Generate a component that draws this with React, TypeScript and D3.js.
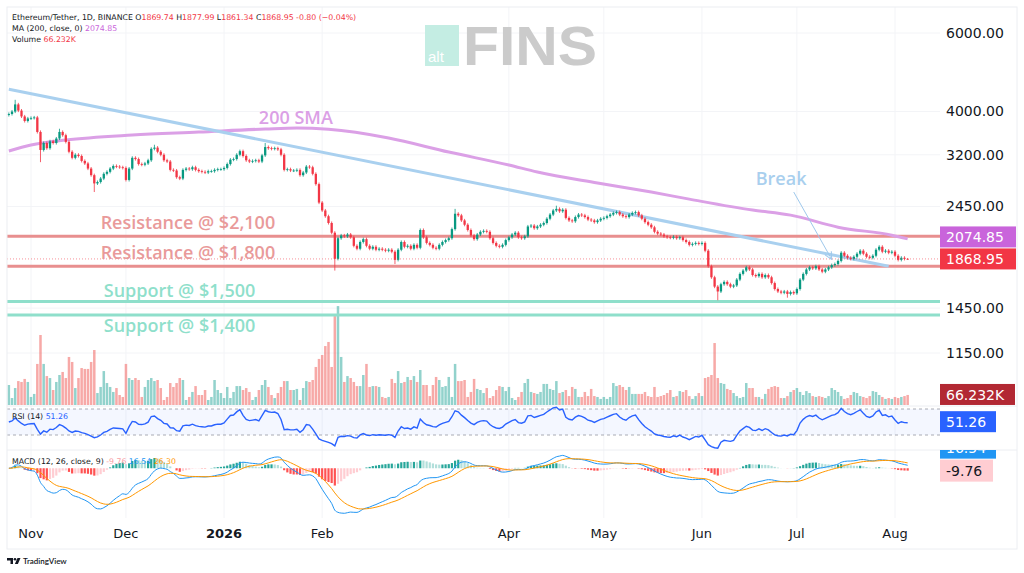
import * as d3 from "d3";

// ETH/USDT daily candles, Oct 25 2025 -> Aug 5 2026 (closes)
const firstDay = "2025-10-25";
const firstOpen = 3930;

const closesOct = [3950, 4000, 4150, 4020, 3900, 3810, 3860];
const closesNov = [3870, 3880, 3600, 3280, 3400, 3310, 3430, 3400, 3480, 3600, 3540, 3420, 3250, 3150, 3200, 3180, 3100, 3060, 2980, 2880, 2760, 2780, 2830, 2900, 2930, 2980, 3020, 3010, 3000, 2990];
const closesDec = [2810, 2980, 3150, 3130, 3050, 3040, 3060, 3110, 3300, 3320, 3250, 3200, 3110, 3090, 2960, 2950, 2850, 2830, 2960, 2980, 2970, 3000, 2960, 2940, 2930, 2920, 2940, 2940, 2960, 2970, 2970];
const closesJan = [2990, 3050, 3120, 3130, 3200, 3260, 3180, 3110, 3090, 3100, 3110, 3090, 3190, 3330, 3310, 3300, 3310, 3290, 3200, 2960, 2970, 2950, 2950, 2960, 2880, 2920, 3010, 3000, 2900, 2750, 2500];
const closesFeb = [2400, 2330, 2250, 2140, 1870, 2080, 2110, 2100, 2120, 2090, 2000, 1970, 2040, 2070, 2000, 1970, 1990, 1960, 1970, 1960, 1950, 1960, 1940, 1860, 1960, 2040, 1990, 2000];
const closesMar = [1970, 2010, 1980, 2170, 2090, 2030, 2010, 1980, 1970, 2010, 2040, 2060, 2080, 2180, 2360, 2340, 2280, 2230, 2170, 2110, 2070, 2120, 2150, 2160, 2150, 2080, 2030, 2000, 1990, 2010, 2060];
const closesApr = [2090, 2120, 2140, 2090, 2080, 2100, 2210, 2220, 2190, 2210, 2230, 2250, 2300, 2350, 2400, 2420, 2390, 2410, 2310, 2280, 2270, 2320, 2350, 2340, 2320, 2290, 2280, 2260, 2280, 2300];
const closesMay = [2310, 2330, 2350, 2370, 2380, 2350, 2330, 2320, 2350, 2370, 2380, 2340, 2300, 2260, 2230, 2200, 2150, 2130, 2120, 2100, 2090, 2085, 2095, 2080, 2090, 2060, 2040, 2010, 2020, 2030, 2020];
const closesJun = [2030, 1950, 1800, 1700, 1620, 1580, 1640, 1660, 1640, 1620, 1630, 1680, 1730, 1760, 1790, 1770, 1720, 1710, 1730, 1700, 1720, 1700, 1650, 1600, 1580, 1570, 1580, 1560, 1575, 1565];
const closesJul = [1600, 1680, 1730, 1770, 1790, 1780, 1800, 1770, 1750, 1770, 1790, 1810, 1820, 1850, 1930, 1900, 1880, 1870, 1890, 1920, 1950, 1920, 1890, 1880, 1900, 1960, 1990, 1940, 1950, 1930, 1940];
const closesAug = [1900, 1860, 1880, 1869.74, 1868.95];

// daily volume, thousands of ETH
const volOct = [132, 46, 112, 158, 152, 172, 152];
const volNov = [53, 73, 271, 462, 271, 191, 178, 99, 152, 198, 218, 178, 317, 284, 112, 178, 244, 238, 238, 284, 363, 79, 119, 224, 145, 119, 86, 112, 66, 53];
const volDec = [271, 178, 165, 178, 165, 53, 119, 165, 178, 158, 165, 112, 33, 53, 145, 119, 145, 178, 165, 33, 53, 86, 125, 66, 66, 99, 33, 53, 165, 99, 79];
const volJan = [46, 119, 46, 86, 125, 125, 99, 112, 86, 33, 53, 99, 132, 165, 119, 66, 46, 79, 119, 158, 158, 99, 99, 106, 33, 112, 158, 152, 165, 251, 304];
const volFeb = [330, 389, 416, 251, 587, 653, 317, 152, 191, 178, 152, 125, 125, 198, 271, 119, 125, 125, 119, 53, 46, 53, 172, 145, 224, 145, 152, 185];
const volMar = [165, 191, 152, 231, 132, 132, 59, 132, 185, 165, 119, 125, 185, 53, 271, 158, 158, 165, 53, 86, 172, 106, 99, 79, 112, 46, 59, 99, 125, 119, 92];
const volApr = [119, 46, 33, 53, 86, 145, 172, 86, 79, 73, 86, 139, 139, 106, 99, 158, 79, 86, 99, 59, 119, 106, 53, 53, 86, 59, 106, 59, 53, 40];
const volMay = [53, 40, 53, 145, 125, 132, 119, 99, 119, 73, 73, 73, 73, 86, 59, 53, 119, 53, 59, 66, 79, 99, 53, 59, 92, 86, 99, 59, 40, 59, 79];
const volJun = [59, 178, 185, 198, 409, 178, 145, 139, 106, 99, 79, 59, 46, 53, 145, 112, 112, 53, 53, 40, 73, 106, 119, 125, 119, 46, 46, 59, 86, 99];
const volJul = [112, 86, 66, 92, 79, 59, 53, 59, 53, 46, 59, 112, 99, 86, 59, 40, 46, 66, 86, 79, 59, 53, 46, 59, 92, 86, 66, 53, 40, 46, 40];
const volAug = [53, 46, 53, 59, 66.232];

// notable wicks
const wickHighDates = ["2025-10-27", "2025-11-10", "2025-12-10", "2026-01-14", "2026-03-15", "2026-04-16", "2026-08-05"];
const wickHighValues = [4250, 3660, 3370, 3400, 2420, 2460, 1877.99];
const wickLowDates = ["2025-11-04", "2025-11-21", "2026-02-05", "2026-02-24", "2026-06-06", "2026-06-28", "2026-08-05"];
const wickLowValues = [3080, 2640, 1760, 1820, 1510, 1530, 1861.34];

// 200-day SMA, sampled
const smaDates = ["2025-10-25", "2025-11-01", "2025-11-12", "2025-12-03", "2025-12-24", "2026-01-14", "2026-01-24", "2026-02-03", "2026-02-22", "2026-03-13", "2026-04-01", "2026-04-10", "2026-04-29", "2026-05-16", "2026-05-28", "2026-06-17", "2026-06-29", "2026-07-14", "2026-07-31", "2026-08-05"];
const smaValues = [3262, 3365, 3453, 3543, 3598, 3655, 3674, 3649, 3489, 3245, 3035, 2927, 2766, 2639, 2545, 2405, 2343, 2202, 2113, 2074.85];

// drawn trendline
const trendDates = ["2025-10-25", "2026-07-30"];
const trendValues = [4490, 1800];

// horizontal levels
const levelPrices = [2100, 1800, 1500, 1400];
const levelKinds = ["res", "res", "sup", "sup"];
const levelLabels = ["Resistance @ $2,100", "Resistance @ $1,800", "Support @ $1,500", "Support @ $1,400"];

const priceTicks = [6000, 4000, 3200, 2450, 1450, 1150];
const monthTickDates = ["2025-11-01", "2025-12-01", "2026-01-01", "2026-02-01", "2026-04-01", "2026-05-01", "2026-06-01", "2026-07-01", "2026-08-01"];
const monthTickLabels = ["Nov", "Dec", "2026", "Feb", "Apr", "May", "Jun", "Jul", "Aug"];

const lastClose = 1868.95;
const lastSma = 2074.85;
const lastVol = 66.232;

const parse = d3.utcParse("%Y-%m-%d");
const P = (s: string) => parse(s) as Date;

const closes = [...closesOct, ...closesNov, ...closesDec, ...closesJan, ...closesFeb, ...closesMar, ...closesApr, ...closesMay, ...closesJun, ...closesJul, ...closesAug];
const volumes = [...volOct, ...volNov, ...volDec, ...volJan, ...volFeb, ...volMar, ...volApr, ...volMay, ...volJun, ...volJul, ...volAug];
const days = closes.map((_, i) => d3.utcDay.offset(P(firstDay), i));
const opens = closes.map((c, i) => (i === 0 ? firstOpen : closes[i - 1]));
const key = d3.utcFormat("%Y-%m-%d");
const highMap = new Map(wickHighDates.map((d, i) => [d, wickHighValues[i]]));
const lowMap = new Map(wickLowDates.map((d, i) => [d, wickLowValues[i]]));

const candles = days.map((d, i) => {
  const o = opens[i], c = closes[i];
  const k = key(d);
  return {
    date: d, o, c, v: volumes[i],
    h: highMap.get(k) ?? Math.max(o, c) * 1.008,
    l: lowMap.get(k) ?? Math.min(o, c) * 0.992,
  };
});

// indicators
function ema(vals: number[], n: number) {
  const k = 2 / (n + 1);
  let prev = vals[0];
  return vals.map((v, i) => (prev = i === 0 ? v : v * k + prev * (1 - k)));
}
function rsi(vals: number[], n = 14) {
  const ch = vals.slice(1).map((v, i) => v - vals[i]);
  const seed = (d3.mean(ch.slice(0, n), (c) => Math.abs(c)) as number) / 2;
  let g = seed, l = seed;
  const out = [50];
  ch.forEach((c) => {
    g = (g * (n - 1) + Math.max(c, 0)) / n;
    l = (l * (n - 1) + Math.max(-c, 0)) / n;
    out.push(100 - 100 / (1 + g / l));
  });
  return out;
}
const e12 = ema(closes, 12);
const e26 = ema(closes, 26);
const macd = e12.map((v, i) => v - e26[i]);
const signal = ema(macd, 9);
const hist = macd.map((v, i) => v - signal[i]);
const rsiVals = rsi(closes);

// layout
const L = 7, R = 1017, T = 7, B = 549;
const plotR = 940;
const mainB = 406, rsiT = 406, rsiB = 450, macdT = 450, macdB = 518;

const x = d3.scaleUtc().domain([P("2025-11-01"), P("2026-08-01")]).range([31, 895]);
const y = d3.scaleLog().domain([1150, 6000]).range([353, 33]);
const yVol = d3.scaleLinear().domain([0, 660]).range([405, 305]);
const yRsi = d3.scaleLinear().domain([30, 70]).range([435, 409]);
const yMacd = d3.scaleLinear().domain([-300, 110]).range([518, 450]);

const UP = "#089981", DOWN = "#f23645";
const AXIS_TEXT = "#131722";

export default function App() {
  const smaLine = d3.line<number>()
    .x((_, i) => x(P(smaDates[i])))
    .y((v) => y(v))
    .curve(d3.curveMonotoneX)(smaValues) as string;
  const rsiLine = d3.line<number>().x((_, i) => x(days[i])).y((v) => yRsi(v))(rsiVals) as string;
  const macdLine = d3.line<number>().x((_, i) => x(days[i])).y((v) => yMacd(v)).curve(d3.curveMonotoneX)(macd) as string;
  const sigLine = d3.line<number>().x((_, i) => x(days[i])).y((v) => yMacd(v)).curve(d3.curveMonotoneX)(signal) as string;

  const curY = y(lastClose);
  const smaBoxY = Math.min(y(lastSma), curY - 22);
  const macdBoxY = yMacd(hist[hist.length - 1]);
  const brk0 = [x(P("2026-06-30")), y(2640)];
  const brk1 = [x(P("2026-07-12")), y(1865)];

  return (
    <svg width={1024} height={573} style={{ position: "absolute", left: 0, top: 0, background: "#fff" }} fontFamily="DejaVu Sans">
      <defs>
        <clipPath id="cMain"><rect x={L} y={T} width={plotR - L} height={mainB - T} /></clipPath>
        <clipPath id="cRsi"><rect x={L} y={rsiT} width={plotR - L} height={rsiB - rsiT} /></clipPath>
        <clipPath id="cMacd"><rect x={L} y={macdT} width={plotR - L} height={macdB - macdT} /></clipPath>
        <clipPath id="cMacdAxis"><rect x={plotR} y={macdT} width={R - plotR} height={macdB - macdT} /></clipPath>
        <marker id="arr" viewBox="0 0 10 10" refX="9" refY="5" markerWidth="9" markerHeight="9" markerUnits="userSpaceOnUse" orient="auto">
          <path d="M1,1 L9,5 L1,9" fill="none" stroke="#9ec8ec" strokeWidth="1.2" />
        </marker>
      </defs>

      {/* grid */}
      {monthTickDates.map((d) => (
        <line key={d} x1={x(P(d))} x2={x(P(d))} y1={T} y2={macdB} stroke="#f3f4f7" />
      ))}
      {priceTicks.map((p) => (
        <line key={p} x1={L} x2={plotR} y1={y(p)} y2={y(p)} stroke="#f3f4f7" />
      ))}

      {/* watermark */}
      <rect x={425} y={25} width={34} height={41} fill="#c4ede3" />
      <text x={428} y={62} fontFamily="Liberation Sans" fontSize={15} fill="#fff">alt</text>
      <text x={463} y={65} fontFamily="Liberation Sans" fontWeight="bold" fontSize={56} fill="#cbcbcb" textLength={134} lengthAdjust="spacingAndGlyphs">FINS</text>

      <g clipPath="url(#cMain)">
        {/* volume */}
        {candles.map((c, i) => (
          <rect key={"v" + i} x={x(c.date) - 1.25} width={2.5} y={yVol(c.v)} height={yVol(0) - yVol(c.v)}
            fill={c.c >= c.o ? "rgba(38,166,154,0.5)" : "rgba(239,83,80,0.5)"} />
        ))}

        {/* levels */}
        {levelPrices.map((p, i) => (
          <line key={"lv" + p} x1={L} x2={plotR} y1={y(p)} y2={y(p)} strokeWidth={3}
            stroke={levelKinds[i] === "res" ? "#e88f8f" : "#8fdfcb"} />
        ))}

        {/* SMA + trendline */}
        <path d={smaLine} fill="none" stroke="#dba0e6" strokeWidth={3} />
        <line x1={x(P(trendDates[0]))} y1={y(trendValues[0])} x2={x(P(trendDates[1]))} y2={y(trendValues[1])}
          stroke="#a9d0ef" strokeWidth={3} />

        {/* candles */}
        {candles.map((c, i) => {
          const col = c.c >= c.o ? UP : DOWN;
          const cx = x(c.date);
          const top = y(Math.max(c.o, c.c)), bot = y(Math.min(c.o, c.c));
          return (
            <g key={"c" + i}>
              <line x1={cx} x2={cx} y1={y(c.h)} y2={y(c.l)} stroke={col} strokeWidth={0.8} />
              <rect x={cx - 1.15} width={2.3} y={top} height={Math.max(bot - top, 0.8)} fill={col} />
            </g>
          );
        })}

        {/* last price line */}
        <line x1={L} x2={plotR} y1={curY} y2={curY} stroke="#f23645" strokeOpacity={0.55} strokeDasharray="1 2" />
      </g>

      {/* annotation texts */}
      <g fontFamily="Open Sans" fontWeight={600} fontSize={18}>
        <text x={x(P("2025-11-23"))} y={y(levelPrices[0]) - 7} fill="#e99a9a">{levelLabels[0]}</text>
        <text x={x(P("2025-11-23"))} y={y(levelPrices[1]) - 7} fill="#e99a9a">{levelLabels[1]}</text>
        <text x={x(P("2025-11-24"))} y={y(levelPrices[2]) - 5} fill="#8fdfcb">{levelLabels[2]}</text>
        <text x={x(P("2025-11-24"))} y={y(levelPrices[3]) + 17} fill="#8fdfcb">{levelLabels[3]}</text>
        <text x={x(P("2026-01-12"))} y={y(3745)} fill="#dba0e6">200 SMA</text>
        <text x={x(P("2026-06-18"))} y={y(2738)} fill="#a9cfee">Break</text>
      </g>
      <line x1={brk0[0]} y1={brk0[1]} x2={brk1[0]} y2={brk1[1]} stroke="#9ec8ec" strokeWidth={1} markerEnd="url(#arr)" />

      {/* legend */}
      <g fontSize={7.8} fill={AXIS_TEXT}>
        <text x={12} y={20}>
          Ethereum/Tether, 1D, BINANCE{"  "}
          <tspan>O</tspan><tspan fill={DOWN}>1869.74</tspan>{" "}
          <tspan>H</tspan><tspan fill={DOWN}>1877.99</tspan>{" "}
          <tspan>L</tspan><tspan fill={DOWN}>1861.34</tspan>{" "}
          <tspan>C</tspan><tspan fill={DOWN}>1868.95</tspan>{" "}
          <tspan fill={DOWN}>-0.80 (−0.04%)</tspan>
        </text>
        <text x={12} y={31}>MA (200, close, 0) <tspan fill="#c964db">2074.85</tspan></text>
        <text x={12} y={42}>Volume <tspan fill={DOWN}>66.232K</tspan></text>
      </g>

      {/* RSI pane */}
      <line x1={L} x2={R} y1={rsiT} y2={rsiT} stroke="#eceef2" />
      <rect x={L} y={yRsi(70)} width={plotR - L} height={yRsi(30) - yRsi(70)} fill="#2962ff" fillOpacity={0.05} />
      {[70, 30].map((v) => (
        <line key={v} x1={L} x2={plotR} y1={yRsi(v)} y2={yRsi(v)} stroke="#9598a1" strokeDasharray="3 3" strokeWidth={0.8} />
      ))}
      <path d={rsiLine} clipPath="url(#cRsi)" fill="none" stroke="#2962ff" strokeWidth={1.4} />
      <text x={12} y={419} fontSize={7.8} fill={AXIS_TEXT}>RSI (14) <tspan fill="#2962ff">51.26</tspan></text>

      {/* MACD pane */}
      <line x1={L} x2={R} y1={macdT} y2={macdT} stroke="#eceef2" />
      <g clipPath="url(#cMacd)">
        {hist.map((h, i) => {
          const prev = i > 0 ? hist[i - 1] : h;
          const col = h >= 0 ? (h >= prev ? "#26a69a" : "#b2dfdb") : (h < prev ? "#ff5252" : "#ffcdd2");
          const y0 = yMacd(0), y1 = yMacd(h);
          return <rect key={"h" + i} x={x(days[i]) - 1.1} width={2.2} y={Math.min(y0, y1)} height={Math.abs(y1 - y0)} fill={col} />;
        })}
        <path d={macdLine} fill="none" stroke="#2196f3" strokeWidth={1} />
        <path d={sigLine} fill="none" stroke="#ff9800" strokeWidth={1} />
      </g>
      <text x={12} y={464} fontSize={7.8} fill={AXIS_TEXT}>
        MACD (12, 26, close, 9) <tspan fill="#f7a1a6">-9.76</tspan> <tspan fill="#2196f3">16.54</tspan> <tspan fill="#ff9800">26.30</tspan>
      </text>

      {/* price axis */}
      <g fontSize={14} fill={AXIS_TEXT}>
        {priceTicks.map((p) => (
          <text key={p} x={946} y={y(p)} dy="0.35em">{p.toFixed(2)}</text>
        ))}
      </g>
      <rect x={plotR} y={smaBoxY - 10.5} width={76} height={21} fill="#c964db" />
      <text x={946} y={smaBoxY} dy="0.36em" fontSize={14} fill="#fff">{lastSma.toFixed(2)}</text>
      <rect x={plotR} y={curY - 10.5} width={76} height={21} fill={DOWN} />
      <text x={946} y={curY} dy="0.36em" fontSize={14} fill="#fff">{lastClose.toFixed(2)}</text>
      <rect x={plotR} y={yVol(lastVol) - 11} width={75} height={21} fill="#b22833" />
      <text x={946} y={yVol(lastVol)} dy="0.36em" fontSize={14} fill="#fff">{lastVol.toFixed(3)}K</text>
      <rect x={plotR} y={yRsi(51.26) - 10} width={56} height={21} fill="#2962ff" />
      <text x={946} y={yRsi(51.26) + 0.5} dy="0.36em" fontSize={14} fill="#fff">51.26</text>
      <g clipPath="url(#cMacdAxis)">
        <rect x={plotR} y={macdBoxY - 33} width={56} height={21} fill="#2196f3" />
        <text x={946} y={macdBoxY - 22.5} dy="0.36em" fontSize={14} fill="#fff">16.54</text>
        <rect x={plotR} y={macdBoxY - 11} width={53} height={22} fill="#ffcdd2" />
        <text x={946} y={macdBoxY} dy="0.36em" fontSize={14} fill={AXIS_TEXT}>-9.76</text>
      </g>

      {/* time axis */}
      <g fontSize={13} fill={AXIS_TEXT} textAnchor="middle">
        {monthTickDates.map((d, i) => (
          <text key={d} x={x(P(d))} y={538} fontWeight={monthTickLabels[i] === "2026" ? "bold" : "normal"}>{monthTickLabels[i]}</text>
        ))}
      </g>

      {/* frame */}
      <rect x={L} y={T} width={R - L} height={B - T} fill="none" stroke="#eceef2" />

      {/* TradingView mark */}
      <g fill={AXIS_TEXT}>
        <path d="M7,558 h6 v6 h-2.5 v-3.5 h-3.5 z" />
        <circle cx={15} cy={559.3} r={1.3} />
        <path d="M17.5,558 h3 l-2.6,6 h-3 z" />
        <text x={23} y={564} fontSize={8} fontFamily="Lato" fontWeight={600}>TradingView</text>
      </g>
    </svg>
  );
}
